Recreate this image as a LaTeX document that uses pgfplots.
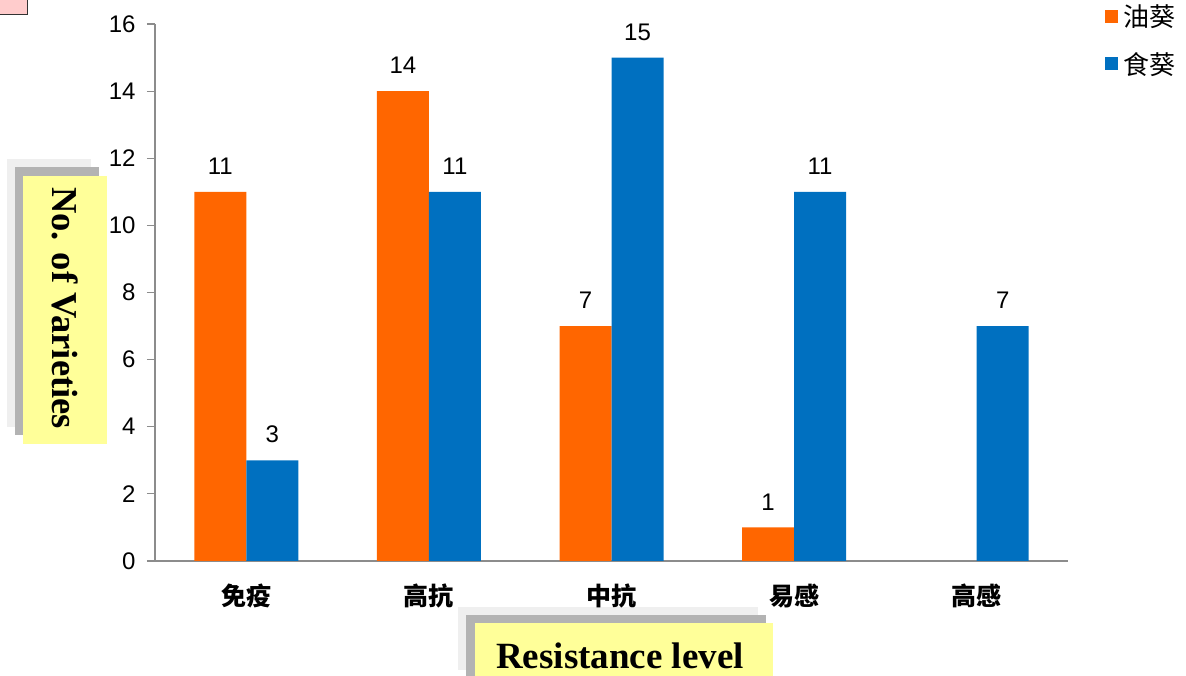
\documentclass[border=0pt]{standalone}
\usepackage{fontspec}
\setmainfont{Liberation Sans}
\newfontfamily\cjk{Noto Sans CJK SC}
\newfontfamily\serifb{Liberation Serif}
\usepackage{pgfplots}
\pgfplotsset{compat=1.18}
\definecolor{oilorange}{HTML}{FF6600}
\definecolor{foodblue}{HTML}{0070C0}
\definecolor{notepad}{HTML}{FFFF99}
\definecolor{shadeA}{HTML}{EFEFEF}
\definecolor{shadeB}{HTML}{B3B3B3}
\definecolor{flag}{HTML}{FFCCCC}

\begin{document}
\begin{tikzpicture}[x=1pt,y=1pt]
\path[use as bounding box] (0,0) rectangle (1186,676);
% small tab in the corner
\draw[fill=flag, draw=black!80, line width=1pt] (-2,661) rectangle (27,678);
% y title card with stacked shadows
\fill[shadeA] (7,249) rectangle (91,517);
\fill[shadeB] (15,241) rectangle (99,509);
\fill[notepad] (23,232) rectangle (107,500);
\node[rotate=-90, font=\serifb\bfseries\fontsize{36.5}{40}\selectfont] at (65,368) {No. of Varieties};
% x title card with stacked shadows
\fill[shadeA] (458,6) rectangle (758,69);
\fill[shadeB] (466,-10) rectangle (766,61);
\fill[notepad] (475,-10) rectangle (773,53);
\node[anchor=base, inner sep=0pt, font=\serifb\bfseries\fontsize{37}{40}\selectfont] at (620,7) {Resistance level};

\begin{axis}[
  at={(155pt,115pt)}, anchor=south west,
  scale only axis, width=913pt, height=537pt,
  xmin=-0.5, xmax=4.5, ymin=0, ymax=16,
  ybar=0pt, bar width=52pt,
  axis x line*=bottom, axis y line*=left,
  axis line style={black!45, line width=1.2pt, -},
  ytick={0,2,...,16},
  xtick={0,...,4},
  xticklabels={免疫,高抗,中抗,易感,高感},
  x tick style={draw=none},
  y tick style={black!45, line width=1.2pt},
  major tick length=8pt, tick align=outside,
  /pgf/number format/assume math mode=true,
  yticklabel style={font=\fontsize{24}{27}\selectfont, xshift=-8pt},
  xticklabel style={font=\cjk\bfseries\fontsize{25}{28}\selectfont, anchor=north, inner sep=0pt, yshift=-15pt},
  nodes near coords,
  every node near coord/.append style={text=black, font=\fontsize{24}{27}\selectfont, anchor=south, inner sep=0pt, yshift=17pt},
  legend style={draw=none, fill=none, at={(rel axis cs:1.0405,1.04)}, anchor=north west,
    font=\cjk\fontsize{26}{28}\selectfont, row sep=20pt, inner sep=0pt},
  legend cell align=left,
  legend image code/.code={\fill[#1] (0pt,-6.5pt) rectangle (13pt,6.5pt); \path (16pt,0pt);},
  clip=false,
]
\addplot[fill=oilorange, draw=none] coordinates {(0,11) (1,14) (2,7) (3,1)};
\addplot[fill=foodblue, draw=none] coordinates {(0,3) (1,11) (2,15) (3,11) (4,7)};
\legend{油葵,食葵}
\end{axis}
\end{tikzpicture}
\end{document}
